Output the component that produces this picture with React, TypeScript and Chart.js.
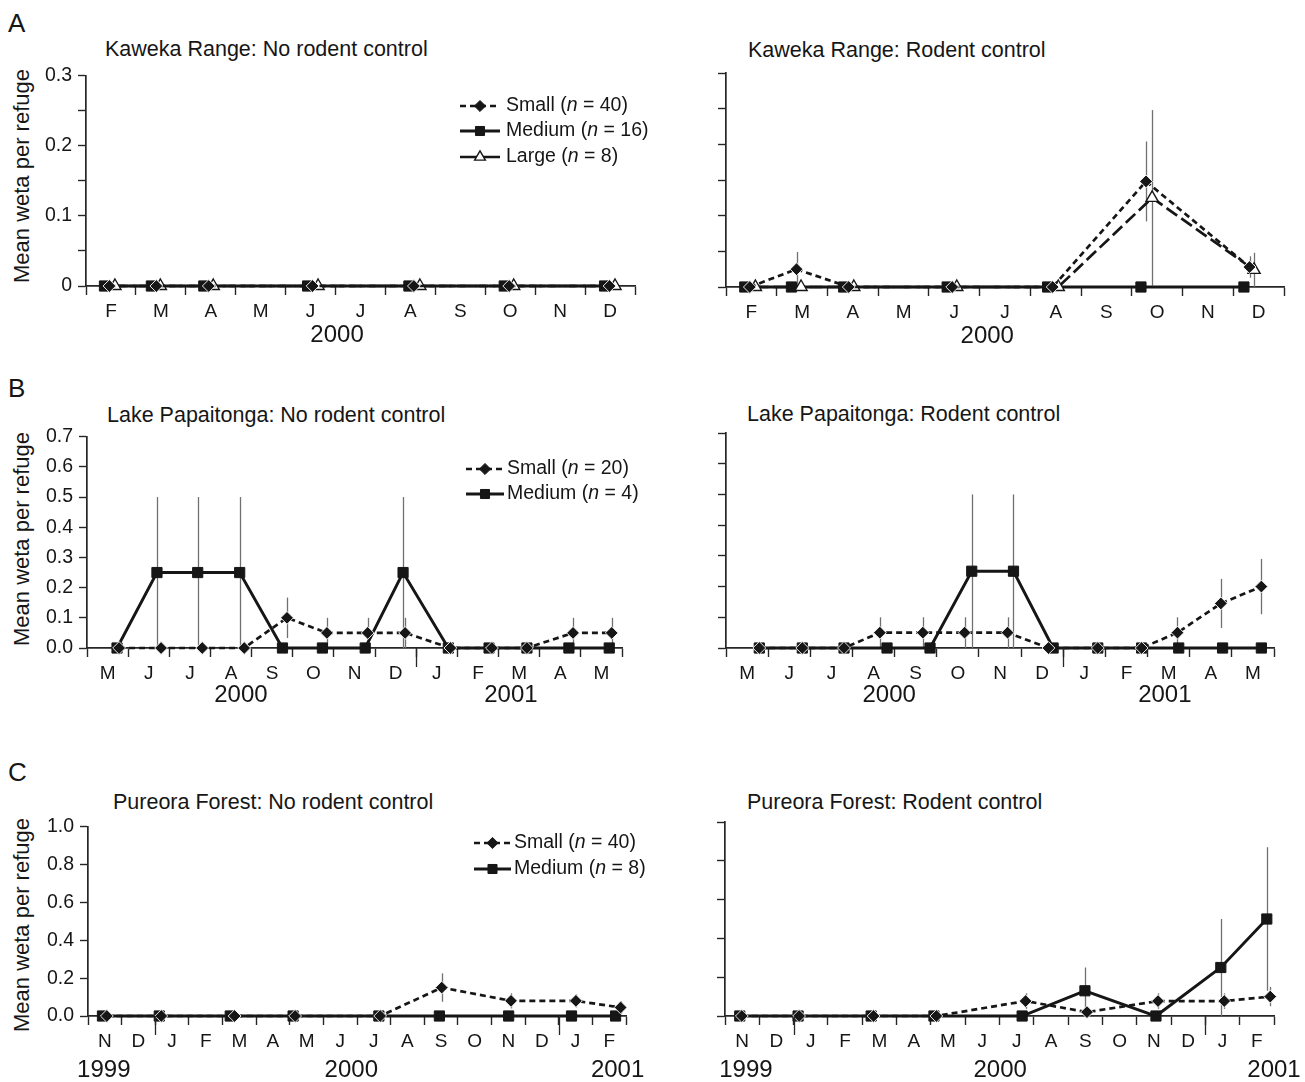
import React, { useEffect, useRef } from "react";
import { Chart, registerables } from "chart.js";
import { drawPoint } from "chart.js/helpers";
Chart.register(...registerables);

const FONT = '"Liberation Sans", Arial, Helvetica, sans-serif';
const INK = "#161616";
const AXIS = "#262626";

// ---------------- axis labels (x = months since 1 Jan 2000) ----------------
const kawekaMonths = ["F", "M", "A", "M", "J", "J", "A", "S", "O", "N", "D"];
const kawekaStart = 1;
const papaitongaMonths = ["M", "J", "J", "A", "S", "O", "N", "D", "J", "F", "M", "A", "M"];
const papaitongaStart = 4;
const pureoraMonths = ["N", "D", "J", "F", "M", "A", "M", "J", "J", "A", "S", "O", "N", "D", "J", "F"];
const pureoraStart = -2;

const kawekaYears = ["2000"];
const kawekaNoYearX = [6.03];
const kawekaRcYearX = [6.15];
const papaitongaYears = ["2000", "2001"];
const papaitongaNoYearX = [7.74, 14.3];
const papaitongaRcYearX = [7.87, 14.41];
const pureoraYears = ["1999", "2000", "2001"];
const pureoraNoYearX = [-1.53, 5.83, 13.75];
const pureoraRcYearX = [-1.39, 6.02, 14.0];
const papaitongaYearBreaks = [12];
const pureoraYearBreaks = [0, 12];

// ---------------- series ----------------
// Kaweka Range: No rodent control
const kNoSmallX = [1.47, 2.41, 3.46, 5.54, 7.57, 9.48, 11.49];
const kNoSmallY = [0, 0, 0, 0, 0, 0, 0];
const kNoMediumX = [1.37, 2.31, 3.36, 5.44, 7.47, 9.38, 11.39];
const kNoMediumY = [0, 0, 0, 0, 0, 0, 0];
const kNoLargeX = [1.58, 2.49, 3.55, 5.65, 7.69, 9.57, 11.6];
const kNoLargeY = [0, 0, 0, 0, 0, 0, 0];

// Kaweka Range: Rodent control
const kRcSmallX = [1.47, 2.39, 3.42, 5.46, 7.44, 9.28, 11.32];
const kRcSmallY = [0, 0.025, 0, 0, 0, 0.148, 0.028];
const kRcSmallErr = [0, 0.024, 0, 0, 0, 0.056, 0.015];
const kRcMediumX = [1.37, 2.29, 3.32, 5.36, 7.34, 9.18, 11.21];
const kRcMediumY = [0, 0, 0, 0, 0, 0, 0];
const kRcLargeX = [1.58, 2.48, 3.52, 5.55, 7.55, 9.4, 11.41];
const kRcLargeY = [0, 0, 0, 0, 0, 0.125, 0.024];
const kRcLargeErr = [0, 0, 0, 0, 0, 0.123, 0.024];

// Lake Papaitonga: No rodent control
const pNoSmallX = [4.78, 5.8, 6.8, 7.82, 8.86, 9.83, 10.82, 11.73, 12.83, 13.84, 14.69, 15.81, 16.75];
const pNoSmallY = [0, 0, 0, 0, 0.1, 0.05, 0.05, 0.05, 0, 0, 0, 0.05, 0.05];
const pNoSmallErr = [0, 0, 0, 0, 0.067, 0.05, 0.05, 0.05, 0, 0, 0, 0.05, 0.05];
const pNoMediumX = [4.73, 5.7, 6.69, 7.71, 8.75, 9.72, 10.76, 11.68, 12.78, 13.77, 14.69, 15.71, 16.69];
const pNoMediumY = [0, 0.25, 0.25, 0.25, 0, 0, 0, 0.25, 0, 0, 0, 0, 0];
const pNoMediumErr = [0, 0.25, 0.25, 0.25, 0, 0, 0, 0.25, 0, 0, 0, 0, 0];

// Lake Papaitonga: Rodent control
const pRcSmallX = [4.79, 5.81, 6.8, 7.65, 8.67, 9.66, 10.68, 11.65, 12.82, 13.86, 14.71, 15.74, 16.7];
const pRcSmallY = [0, 0, 0, 0.05, 0.05, 0.05, 0.05, 0, 0, 0, 0.05, 0.145, 0.2];
const pRcSmallErr = [0, 0, 0, 0.05, 0.05, 0.05, 0.05, 0, 0, 0, 0.05, 0.08, 0.09];
const pRcMediumX = [4.79, 5.81, 6.8, 7.82, 8.84, 9.83, 10.82, 11.76, 12.82, 13.86, 14.74, 15.78, 16.7];
const pRcMediumY = [0, 0, 0, 0, 0, 0.25, 0.25, 0, 0, 0, 0, 0, 0];
const pRcMediumErr = [0, 0, 0, 0, 0, 0.25, 0.25, 0, 0, 0, 0, 0, 0];

// Pureora Forest: No rodent control
const fNoSmallX = [-1.44, 0.18, 2.36, 4.16, 6.69, 8.52, 10.58, 12.51, 13.84];
const fNoSmallY = [0, 0, 0, 0, 0, 0.15, 0.08, 0.08, 0.045];
const fNoSmallErr = [0, 0, 0, 0, 0, 0.075, 0.04, 0.035, 0.033];
const fNoMediumX = [-1.57, 0.12, 2.23, 4.1, 6.65, 8.45, 10.51, 12.38, 13.69];
const fNoMediumY = [0, 0, 0, 0, 0, 0, 0, 0, 0];

// Pureora Forest: Rodent control
const fRcSmallX = [-1.51, 0.16, 2.33, 4.16, 6.76, 8.55, 10.62, 12.55, 13.89];
const fRcSmallY = [0, 0, 0, 0, 0.077, 0.02, 0.077, 0.077, 0.1];
const fRcSmallErr = [0, 0, 0, 0, 0.04, 0.02, 0.04, 0.04, 0.05];
const fRcMediumX = [-1.57, 0.13, 2.26, 4.09, 6.66, 8.49, 10.56, 12.45, 13.79];
const fRcMediumY = [0, 0, 0, 0, 0, 0.13, 0, 0.25, 0.5];
const fRcMediumErr = [0, 0, 0, 0, 0, 0.12, 0, 0.25, 0.37];

// legend sample sizes
const kawekaN = [40, 16, 8];
const papaitongaN = [20, 4];
const pureoraN = [40, 8];

// ---------------- styles ----------------
type Kind = "small" | "medium" | "large";
const STYLE: Record<Kind, any> = {
  small: { pointStyle: "rectRot", radius: 6.4, bg: INK, border: "#ffffff", bw: 0.9, dash: [6, 4], lw: 2.7, name: "Small" },
  medium: { pointStyle: "rect", radius: 7.2, bg: INK, border: INK, bw: 1, dash: [], lw: 2.9, name: "Medium" },
  large: { pointStyle: "triangle", radius: 7, bg: "#ffffff", border: INK, bw: 1.4, dash: [13, 5], lw: 2.7, name: "Large" },
};

type Series = { kind: Kind; x: number[]; y: number[]; err?: number[] };
type LegendSpec = { x1: number; x2: number; tx: number; ys: number[]; kinds: Kind[]; ns: number[] };

type PanelProps = {
  left: number; top: number; plotW: number; plotH: number;
  xStart: number; months: string[];
  yMax: number; yStep: number; yFmt: (v: number) => string; showYLabels: boolean;
  years: string[]; yearX: number[]; yearDy: number; breaks: number[];
  series: Series[]; legend?: LegendSpec;
};

const WY = 60, PT = 14, PR = 36, PB = 46, XH = 10, MH = 30;

const errorBarPlugin = {
  id: "errorBars",
  beforeDatasetsDraw(chart: any) {
    const { ctx } = chart;
    const xs = chart.scales.x, ys = chart.scales.y;
    ctx.save();
    ctx.strokeStyle = "#707070";
    ctx.lineWidth = 1.3;
    chart.data.datasets.forEach((ds: any) => {
      if (!ds.errors) return;
      ds.data.forEach((p: any, i: number) => {
        const e = ds.errors[i];
        if (!e) return;
        const px = Math.round(xs.getPixelForValue(p.x)) + 0.5;
        ctx.beginPath();
        ctx.moveTo(px, ys.getPixelForValue(Math.max(0, p.y - e)));
        ctx.lineTo(px, ys.getPixelForValue(p.y + e));
        ctx.stroke();
      });
    });
    ctx.restore();
  },
};

function Panel(p: PanelProps) {
  const ref = useRef<HTMLCanvasElement>(null);
  const cl = Math.round(p.left) - WY;
  const ct = Math.round(p.top) - PT;
  const width = WY + p.plotW + PR;
  const height = PT + p.plotH + XH + MH + PB;

  useEffect(() => {
    const n = p.months.length;
    const xMin = p.xStart, xMax = p.xStart + n;
    const order: Kind[] = ["small", "large", "medium"];
    const sorted = [...p.series].sort((a, b) => order.indexOf(a.kind) - order.indexOf(b.kind));
    const datasets = sorted.map((s) => {
      const st = STYLE[s.kind];
      return {
        data: s.x.map((x, i) => ({ x, y: s.y[i] })),
        errors: s.err,
        borderColor: INK,
        borderWidth: st.lw,
        borderDash: st.dash,
        pointStyle: st.pointStyle,
        pointRadius: st.radius,
        pointBackgroundColor: st.bg,
        pointBorderColor: st.border,
        pointBorderWidth: st.bw,
        tension: 0,
        clip: false,
        xAxisID: "x",
        yAxisID: "y",
      };
    });

    const decor = {
      id: "decor",
      afterDraw(chart: any) {
        const { ctx, chartArea } = chart;
        const xs = chart.scales.x;
        ctx.save();
        ctx.strokeStyle = AXIS;
        ctx.lineWidth = 1.3;
        p.breaks.forEach((b) => {
          const px = Math.round(xs.getPixelForValue(b)) + 0.5;
          ctx.beginPath();
          ctx.moveTo(px, chartArea.bottom);
          ctx.lineTo(px, chartArea.bottom + 19);
          ctx.stroke();
        });
        ctx.fillStyle = INK;
        ctx.font = `24px ${FONT}`;
        ctx.textAlign = "center";
        ctx.textBaseline = "middle";
        p.years.forEach((t, i) => ctx.fillText(t, xs.getPixelForValue(p.yearX[i]), chartArea.bottom + p.yearDy));
        if (p.legend) {
          const L = p.legend;
          L.kinds.forEach((k, i) => {
            const st = STYLE[k];
            const y = L.ys[i] - ct;
            const x1 = L.x1 - cl, x2 = L.x2 - cl;
            ctx.strokeStyle = INK;
            ctx.lineWidth = st.lw;
            ctx.setLineDash(k === "small" ? st.dash : []);
            ctx.beginPath();
            ctx.moveTo(x1, y);
            ctx.lineTo(x2, y);
            ctx.stroke();
            ctx.setLineDash([]);
            ctx.fillStyle = st.bg;
            ctx.strokeStyle = k === "small" ? st.bg : st.border;
            ctx.lineWidth = st.bw;
            drawPoint(ctx, { pointStyle: st.pointStyle, radius: st.radius - 0.8, rotation: 0, borderWidth: st.bw } as any, (x1 + x2) / 2, y);
            ctx.fillStyle = INK;
            ctx.textAlign = "left";
            ctx.textBaseline = "middle";
            let tx = L.tx - cl;
            const parts: [string, boolean][] = [[st.name + " (", false], ["n", true], [" = " + L.ns[i] + ")", false]];
            parts.forEach(([t, it]) => {
              ctx.font = `${it ? "italic " : ""}19.5px ${FONT}`;
              ctx.fillText(t, tx, y);
              tx += ctx.measureText(t).width;
            });
          });
        }
        ctx.restore();
      },
    };

    const chart = new Chart(ref.current as HTMLCanvasElement, {
      type: "line",
      data: { datasets } as any,
      plugins: [errorBarPlugin, decor],
      options: {
        responsive: false,
        animation: false,
        devicePixelRatio: 1,
        layout: { padding: { left: 0, top: PT, right: PR, bottom: PB } },
        plugins: { legend: { display: false }, tooltip: { enabled: false }, title: { display: false } },
        scales: {
          x: {
            type: "linear",
            position: "bottom",
            min: xMin,
            max: xMax,
            weight: 0,
            afterBuildTicks: (s: any) => {
              s.ticks = p.months.concat([""]).map((_, i) => ({ value: xMin + i }));
            },
            afterFit: (s: any) => {
              s.height = XH;
            },
            grid: { display: true, drawOnChartArea: false, drawTicks: true, tickLength: 9, tickColor: AXIS, tickWidth: 1.4 },
            border: { display: true, color: AXIS, width: 1.7 },
            ticks: { display: false },
          },
          xm: {
            type: "linear",
            position: "bottom",
            min: xMin,
            max: xMax,
            weight: 1,
            afterBuildTicks: (s: any) => {
              s.ticks = p.months.map((_, i) => ({ value: xMin + i + 0.5 }));
            },
            afterFit: (s: any) => {
              s.height = MH;
            },
            grid: { display: false, drawTicks: false },
            border: { display: false },
            ticks: {
              autoSkip: false,
              maxRotation: 0,
              minRotation: 0,
              padding: 4,
              color: INK,
              font: { family: FONT, size: 19 },
              callback: (_v: any, i: number) => p.months[i],
            },
          },
          y: {
            type: "linear",
            min: 0,
            max: p.yMax,
            afterFit: (s: any) => {
              s.width = WY;
            },
            grid: { display: true, drawOnChartArea: false, drawTicks: true, tickLength: 8, tickColor: AXIS, tickWidth: 1.4 },
            border: { display: true, color: AXIS, width: 1.7 },
            ticks: {
              display: p.showYLabels,
              stepSize: p.yStep,
              padding: 6,
              color: INK,
              font: { family: FONT, size: 19.5 },
              callback: (v: any) => p.yFmt(Number(v)),
            },
          },
        },
      } as any,
    });
    return () => chart.destroy();
  }, []);

  return (
    <canvas
      ref={ref}
      width={width}
      height={height}
      style={{ position: "absolute", left: cl, top: ct, width, height }}
    />
  );
}

const fmtA = (v: number) => {
  const t = Math.round(v * 100);
  if (t % 10 !== 0) return "";
  return t === 0 ? "0" : (t / 100).toFixed(1);
};
const fmt1 = (v: number) => v.toFixed(1);

const text = (s: string, x: number, y: number, size: number, extra: any = {}) => (
  <div
    style={{
      position: "absolute",
      left: x,
      top: y,
      transform: "translateY(-50%)",
      fontSize: size,
      lineHeight: 1,
      whiteSpace: "nowrap",
      color: INK,
      ...extra,
    }}
  >
    {s}
  </div>
);

const ylabel = (cy: number) => (
  <div
    style={{
      position: "absolute",
      left: 22,
      top: cy,
      transform: "translate(-50%, -50%) rotate(-90deg)",
      fontSize: 22,
      lineHeight: 1,
      whiteSpace: "nowrap",
      color: INK,
    }}
  >
    Mean weta per refuge
  </div>
);

export default function App() {
  return (
    <div
      style={{
        position: "absolute",
        left: 0,
        top: 0,
        width: 1305,
        height: 1082,
        overflow: "hidden",
        background: "#fff",
        fontFamily: FONT,
      }}
    >
      {text("A", 8, 23, 26)}
      {text("B", 8, 388, 26)}
      {text("C", 8, 772, 26)}
      {text("Kaweka Range: No rodent control", 105, 50, 21.5)}
      {text("Kaweka Range: Rodent control", 748, 51, 21.5)}
      {text("Lake Papaitonga: No rodent control", 107, 416, 21.5)}
      {text("Lake Papaitonga: Rodent control", 747, 415, 21.5)}
      {text("Pureora Forest: No rodent control", 113, 803, 21.5)}
      {text("Pureora Forest: Rodent control", 747, 803, 21.5)}
      {ylabel(176)}
      {ylabel(539)}
      {ylabel(925)}

      <Panel
        left={86} top={72} plotW={549} plotH={214}
        xStart={kawekaStart} months={kawekaMonths}
        yMax={0.3} yStep={0.05} yFmt={fmtA} showYLabels={true}
        years={kawekaYears} yearX={kawekaNoYearX} yearDy={49} breaks={[]}
        series={[
          { kind: "small", x: kNoSmallX, y: kNoSmallY },
          { kind: "medium", x: kNoMediumX, y: kNoMediumY },
          { kind: "large", x: kNoLargeX, y: kNoLargeY },
        ]}
        legend={{ x1: 460, x2: 500, tx: 506, ys: [106, 131, 157], kinds: ["small", "medium", "large"], ns: kawekaN }}
      />
      <Panel
        left={726} top={73} plotW={558} plotH={214}
        xStart={kawekaStart} months={kawekaMonths}
        yMax={0.3} yStep={0.05} yFmt={fmtA} showYLabels={false}
        years={kawekaYears} yearX={kawekaRcYearX} yearDy={49} breaks={[]}
        series={[
          { kind: "small", x: kRcSmallX, y: kRcSmallY, err: kRcSmallErr },
          { kind: "medium", x: kRcMediumX, y: kRcMediumY },
          { kind: "large", x: kRcLargeX, y: kRcLargeY, err: kRcLargeErr },
        ]}
      />
      <Panel
        left={87} top={433} plotW={535} plotH={215}
        xStart={papaitongaStart} months={papaitongaMonths}
        yMax={0.7} yStep={0.1} yFmt={fmt1} showYLabels={true}
        years={papaitongaYears} yearX={papaitongaNoYearX} yearDy={47} breaks={papaitongaYearBreaks}
        series={[
          { kind: "small", x: pNoSmallX, y: pNoSmallY, err: pNoSmallErr },
          { kind: "medium", x: pNoMediumX, y: pNoMediumY, err: pNoMediumErr },
        ]}
        legend={{ x1: 466, x2: 504, tx: 507, ys: [469, 494], kinds: ["small", "medium"], ns: papaitongaN }}
      />
      <Panel
        left={726} top={433} plotW={548} plotH={215}
        xStart={papaitongaStart} months={papaitongaMonths}
        yMax={0.7} yStep={0.1} yFmt={fmt1} showYLabels={false}
        years={papaitongaYears} yearX={papaitongaRcYearX} yearDy={47} breaks={papaitongaYearBreaks}
        series={[
          { kind: "small", x: pRcSmallX, y: pRcSmallY, err: pRcSmallErr },
          { kind: "medium", x: pRcMediumX, y: pRcMediumY, err: pRcMediumErr },
        ]}
      />
      <Panel
        left={88} top={823} plotW={538} plotH={193}
        xStart={pureoraStart} months={pureoraMonths}
        yMax={1.0} yStep={0.2} yFmt={fmt1} showYLabels={true}
        years={pureoraYears} yearX={pureoraNoYearX} yearDy={54} breaks={pureoraYearBreaks}
        series={[
          { kind: "small", x: fNoSmallX, y: fNoSmallY, err: fNoSmallErr },
          { kind: "medium", x: fNoMediumX, y: fNoMediumY },
        ]}
        legend={{ x1: 474, x2: 511, tx: 514, ys: [843, 869], kinds: ["small", "medium"], ns: pureoraN }}
      />
      <Panel
        left={725} top={822} plotW={549} plotH={194}
        xStart={pureoraStart} months={pureoraMonths}
        yMax={1.0} yStep={0.2} yFmt={fmt1} showYLabels={false}
        years={pureoraYears} yearX={pureoraRcYearX} yearDy={54} breaks={pureoraYearBreaks}
        series={[
          { kind: "small", x: fRcSmallX, y: fRcSmallY, err: fRcSmallErr },
          { kind: "medium", x: fRcMediumX, y: fRcMediumY, err: fRcMediumErr },
        ]}
      />
    </div>
  );
}
